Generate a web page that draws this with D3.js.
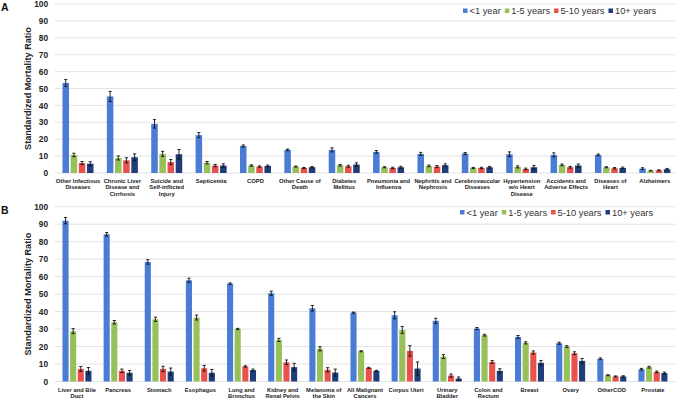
<!DOCTYPE html>
<html><head><meta charset="utf-8">
<script src="https://cdn.jsdelivr.net/npm/d3@7"></script>
<style>body{margin:0;background:#fff}svg{display:block;font-family:"Liberation Sans",Arial,sans-serif}</style>
</head><body><svg id="c" width="675" height="399"></svg>
<script>
const seriesNames = ["<1 year", "1-5 years", "5-10 years", "10+ years"];
const colors = ["#4a7cd6", "#97c05a", "#e9524c", "#1f3d78"];
const yTicks = [0,10,20,30,40,50,60,70,80,90,100];

const catsA = ["Other Infectious|Diseases","Chronic Liver|Disease and|Cirrhosis","Suicide and|Self-inflicted|Injury","Septicemia","COPD","Other Cause of|Death","Diabetes|Mellitus","Pneumonia and|Influenza","Nephritis and|Nephrosis","Cerebrovascular|Diseases","Hypertension|w/o Heart|Disease","Accidents and|Adverse Effects","Diseases of|Heart","Alzheimers"];
const aLt1  = [53.3,45.3,29.1,22.4,16.0,13.7,13.7,12.5,11.3,11.5,11.1,10.7,10.7,2.6];
const a1to5 = [10.7,8.9,11.3,6.1,4.4,3.8,4.6,3.4,4.2,3.0,3.6,4.8,3.4,1.4];
const a5to10= [5.9,7.5,6.5,4.4,3.8,3.0,4.0,3.0,3.8,3.0,2.4,3.4,2.8,1.6];
const a10p  = [5.5,9.3,11.1,4.4,4.2,3.4,5.0,3.4,4.6,3.4,3.4,4.4,3.0,2.2];
const aErrLt1  = [2.0,3.0,2.5,1.5,0.6,0.5,1.2,0.8,0.9,0.6,1.4,1.2,0.5,0.5];
const aErr1to5 = [1.0,1.2,1.5,0.7,0.4,0.3,0.5,0.3,0.5,0.3,0.6,0.5,0.3,0.2];
const aErr5to10= [0.9,1.5,1.5,0.7,0.4,0.3,0.6,0.4,0.6,0.4,0.5,0.5,0.4,0.3];
const aErr10p  = [1.2,2.0,2.8,1.0,0.5,0.4,1.0,0.6,0.8,0.5,1.0,0.9,0.5,0.5];

const catsB = ["Liver and Bile|Duct","Pancreas","Stomach","Esophagus","Lung and|Bronchus","Kidney and|Renal Pelvis","Melanoma of|the Skin","All Malignant|Cancers","Corpus Uteri","Urinary|Bladder","Colon and|Rectum","Breast","Ovary","OtherCOD","Prostate"];
const bLt1  = [92.0,84.2,68.4,57.9,56.0,50.5,41.9,39.4,37.9,34.7,30.3,25.5,21.9,13.0,7.0];
const b1to5 = [28.8,33.9,35.6,36.6,30.1,23.8,18.7,17.3,29.5,14.3,26.5,22.1,20.0,3.6,8.2];
const b5to10= [7.2,6.1,7.2,7.6,8.6,11.0,6.7,7.8,17.5,3.4,11.2,16.6,16.2,2.9,5.5];
const b10p  = [6.1,5.0,5.7,5.0,6.5,8.2,5.1,6.1,7.4,1.7,6.1,10.7,11.8,2.9,4.8];
const bErrLt1  = [1.8,1.0,1.3,1.2,0.4,1.2,1.6,0.3,2.0,1.5,0.6,0.8,0.6,0.5,0.5];
const bErr1to5 = [1.4,1.0,1.2,1.4,0.3,0.9,1.2,0.3,2.0,1.1,0.5,0.6,0.5,0.3,0.5];
const bErr5to10= [1.4,1.0,1.5,1.6,0.4,1.3,1.2,0.3,3.0,0.9,0.8,0.9,0.8,0.3,0.5];
const bErr10p  = [1.9,1.3,2.0,1.9,0.6,2.2,2.0,0.3,3.8,0.9,1.2,1.3,1.4,0.4,0.6];

const svg = d3.select("#c");

function panel(opts){
  const {cats, vals, errs, y0, y1, letter, legendX, legendY, letterY, labelY, xr, gw} = opts;
  const gx0 = 55, gx1 = 675;
  const x = d3.scaleBand().domain(cats.map((d,i)=>i)).range(xr).padding(0);
  const bw = x.bandwidth();
  const xs = d3.scaleBand().domain(d3.range(4)).range([bw/2-gw/2, bw/2+gw/2]).paddingInner(0.2).paddingOuter(0);
  const y = d3.scaleLinear().domain([0,100]).range([y0, y1]);
  const g = svg.append("g");
  g.selectAll("line.grid").data(yTicks).join("line")
    .attr("x1", gx0).attr("x2", gx1).attr("y1", d=>y(d)).attr("y2", d=>y(d))
    .attr("stroke", "#dcdcdc").attr("stroke-width", 0.8);
  const ax = d3.axisLeft(y).tickValues(yTicks).tickSize(0).tickPadding(7);
  const ag = g.append("g").attr("transform", `translate(${gx0},0)`).call(ax);
  ag.select(".domain").remove();
  ag.selectAll("text").attr("font-size", 8.3).attr("font-weight", "bold").attr("fill", "#222")
    .attr("font-family", "Liberation Sans, Arial, sans-serif");
  for (let s=0; s<4; s++){
    const gs = g.append("g");
    gs.selectAll("rect").data(vals[s]).join("rect")
      .attr("x", (d,i)=>x(i)+xs(s)).attr("width", xs.bandwidth())
      .attr("y", d=>y(d)).attr("height", d=>y(0)-y(d)).attr("fill", colors[s]);
    const eg = gs.selectAll("g.err").data(vals[s].map((v,i)=>({v, e:errs[s][i], i}))).join("g");
    const cx = d => x(d.i)+xs(s)+xs.bandwidth()/2;
    eg.append("line").attr("x1", cx).attr("x2", cx)
      .attr("y1", d=>y(d.v-d.e)).attr("y2", d=>y(d.v+d.e)).attr("stroke", "#111").attr("stroke-width", 0.9);
    [1,-1].forEach(sg=>{
      eg.append("line").attr("x1", d=>cx(d)-1.6).attr("x2", d=>cx(d)+1.6)
        .attr("y1", d=>y(d.v+sg*d.e)).attr("y2", d=>y(d.v+sg*d.e)).attr("stroke", "#111").attr("stroke-width", 0.9);
    });
  }
  const lab = g.selectAll("text.cat").data(cats).join("text")
    .attr("x", (d,i)=>x(i)+bw/2).attr("y", labelY)
    .attr("text-anchor", "middle").attr("font-size", 5.8).attr("font-weight", "bold").attr("fill", "#222");
  lab.each(function(d,i){
    const t = d3.select(this);
    d.split("|").forEach((p,j)=>{
      t.append("tspan").attr("x", x(i)+bw/2).attr("dy", j===0?0:6.5).text(p);
    });
  });
  const ym = (y0+y1)/2;
  g.append("text").attr("transform", `translate(31,${ym}) rotate(-90)`)
    .attr("text-anchor", "middle").attr("font-size", 9.1).attr("font-weight", "bold").attr("fill", "#222")
    .text("Standardized Mortality Ratio");
  g.append("text").attr("x", 1).attr("y", letterY).attr("font-size", 10.5).attr("font-weight", "bold").attr("fill", "#111").text(letter);
  const lg = g.append("g").attr("transform", `translate(${legendX},${legendY})`);
  let cx = 0;
  seriesNames.forEach((n,i)=>{
    lg.append("rect").attr("x", cx).attr("y", -5.5).attr("width", 4.5).attr("height", 4.5).attr("fill", colors[i]);
    const t = lg.append("text").attr("x", cx+6.5).attr("y", 0).attr("font-size", 9.3).attr("fill", "#333").text(n);
    cx += 6.5 + t.node().getComputedTextLength() + 4;
  });
}

panel({cats: catsA, vals:[aLt1,a1to5,a5to10,a10p], errs:[aErrLt1,aErr1to5,aErr5to10,aErr10p],
  y0:173, y1:4, letter:"A", legendX:463, legendY:14, letterY:10.7, labelY:182.5, xr:[55.8,677], gw:31});
panel({cats: catsB, vals:[bLt1,b1to5,b5to10,b10p], errs:[bErrLt1,bErr1to5,bErr5to10,bErr10p],
  y0:381.5, y1:206.7, letter:"B", legendX:460, legendY:215.5, letterY:214, labelY:391.5, xr:[56.4,673.5], gw:29});
</script></body></html>
